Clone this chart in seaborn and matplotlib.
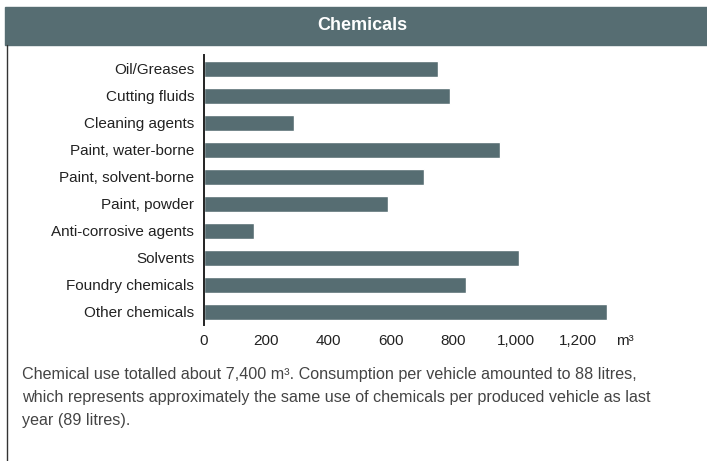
import matplotlib
matplotlib.use("Agg")
import matplotlib.pyplot as plt
from matplotlib import font_manager
from matplotlib.patches import Rectangle
from matplotlib.lines import Line2D
import pandas as pd
import seaborn as sns

# data (m3)
categories = ["Oil/Greases", "Cutting fluids", "Cleaning agents", "Paint, water-borne",
              "Paint, solvent-borne", "Paint, powder", "Anti-corrosive agents",
              "Solvents", "Foundry chemicals", "Other chemicals"]
volumes = [750, 790, 290, 950, 705, 590, 160, 1010, 840, 1295]
x_ticks = [0, 200, 400, 600, 800, 1000, 1200]
x_tick_labels = ["0", "200", "400", "600", "800", "1,000", "1,200"]

title = "Chemicals"
caption = ("Chemical use totalled about 7,400 m³. Consumption per vehicle amounted to 88 litres,\n"
           "which represents approximately the same use of chemicals per produced vehicle as last\n"
           "year (89 litres).")

SLATE = "#566d72"

sns.set_theme(style="white")
plt.rcParams["font.family"] = ["Liberation Sans", "DejaVu Sans"]

installed = {f.name for f in font_manager.fontManager.ttflist}
narrow = "Liberation Sans Narrow" in installed

df = pd.DataFrame({"category": categories, "volume": volumes})

fig = plt.figure(figsize=(7.07, 4.61), dpi=100)
ax = fig.add_axes([0.2885, 0.2944, 0.5728, 0.5857])

sns.barplot(data=df, x="volume", y="category", orient="h", color=SLATE,
            saturation=1, width=0.58, ax=ax)

ax.set_xlim(0, 1300)
ax.set_ylim(9.5, -0.5)
ax.set_xticks(x_ticks)
ax.set_xticklabels(x_tick_labels)
ax.set_xlabel("")
ax.set_ylabel("")
ax.tick_params(axis="both", length=0, labelsize=11, colors="#222222")
ax.tick_params(axis="y", pad=7)
ax.tick_params(axis="x", pad=6)
for s in ["top", "right", "bottom"]:
    ax.spines[s].set_visible(False)
ax.spines["left"].set_color("#222222")
ax.spines["left"].set_linewidth(1.4)

# unit label next to the last tick
fig.text(616 / 707, 1 - 344.5 / 461, "m³", fontsize=11, color="#222222",
         ha="left", va="baseline")

# header band and left border
fig.patches.append(Rectangle((5 / 707, 1 - 45 / 461), 702 / 707, 38 / 461,
                             transform=fig.transFigure, color=SLATE, zorder=0))
fig.lines.append(Line2D([7 / 707, 7 / 707], [0, 1 - 45 / 461], transform=fig.transFigure,
                        color="#333333", linewidth=1.0))
if narrow:
    fig.text(362 / 707, 1 - 26 / 461, title, color="white", fontsize=15,
             fontweight="bold", family="Liberation Sans Narrow", ha="center", va="center")
else:
    fig.text(362 / 707, 1 - 26 / 461, title, color="white", fontsize=13,
             fontweight="bold", ha="center", va="center")

fig.text(22 / 707, 1 - 367 / 461, caption, fontsize=11.6, color="#444444",
         ha="left", va="top", linespacing=1.68)

fig.savefig("out.png", dpi=100)
